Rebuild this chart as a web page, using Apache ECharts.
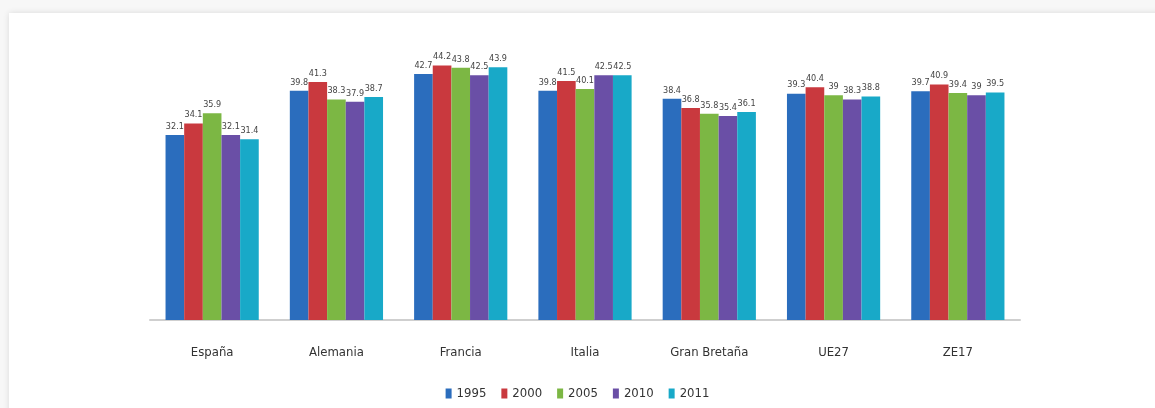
<!DOCTYPE html>
<html>
<head>
<meta charset="utf-8">
<script src="https://cdn.jsdelivr.net/npm/echarts@6/dist/echarts.min.js"></script>
<style>
html,body{margin:0;padding:0;background:#f7f7f7;width:1155px;height:408px;overflow:hidden;}
#card{position:absolute;left:9px;top:13px;width:1160px;height:420px;background:#fff;box-shadow:0 0 6px rgba(0,0,0,0.12);}
#chart{position:absolute;left:0;top:0;width:1155px;height:408px;}
</style>
</head>
<body>
<div id="card"></div>
<div id="chart"></div>
<script>
const categories = ['España','Alemania','Francia','Italia','Gran Bretaña','UE27','ZE17'];
const seriesNames = ['1995','2000','2005','2010','2011'];
const v1995 = [32.1, 39.8, 42.7, 39.8, 38.4, 39.3, 39.7];
const v2000 = [34.1, 41.3, 44.2, 41.5, 36.8, 40.4, 40.9];
const v2005 = [35.9, 38.3, 43.8, 40.1, 35.8, 39, 39.4];
const v2010 = [32.1, 37.9, 42.5, 42.5, 35.4, 38.3, 39];
const v2011 = [31.4, 38.7, 43.9, 42.5, 36.1, 38.8, 39.5];
const colors = ['#2b6dbd','#c9393e','#7cb744','#6a4fa6','#18a9c8'];
const values = [v1995, v2000, v2005, v2010, v2011];
const narrow = 'Liberation Sans Narrow, DejaVu Sans Condensed, sans-serif';

const chart = echarts.init(document.getElementById('chart'), null, {renderer:'canvas'});
chart.setOption({
  backgroundColor: 'transparent',
  animation: false,
  color: colors,
  grid: {left: 150, right: 135, top: 32, bottom: 88},
  legend: {
    bottom: 3, left: 'center',
    itemWidth: 6, itemHeight: 10, itemGap: 15,
    icon: 'rect',
    textStyle: {fontFamily: narrow, fontSize: 13, color: '#333'},
    data: seriesNames
  },
  xAxis: {
    type: 'category', data: categories,
    axisLine: {lineStyle: {color: '#cfcfcf', width: 2}},
    axisTick: {show: false},
    axisLabel: {margin: 26, fontFamily: narrow, fontSize: 13, color: '#333'}
  },
  yAxis: {
    type: 'value', min: 0, max: 50,
    show: false, splitLine: {show: false}
  },
  series: seriesNames.map((n, i) => ({
    name: n, type: 'bar', data: values[i],
    barGap: '0%', barCategoryGap: '25%',
    label: {show: true, position: 'top', distance: 4, fontSize: 9,
      fontFamily: narrow, color: '#444'}
  }))
});
</script>
</body>
</html>
